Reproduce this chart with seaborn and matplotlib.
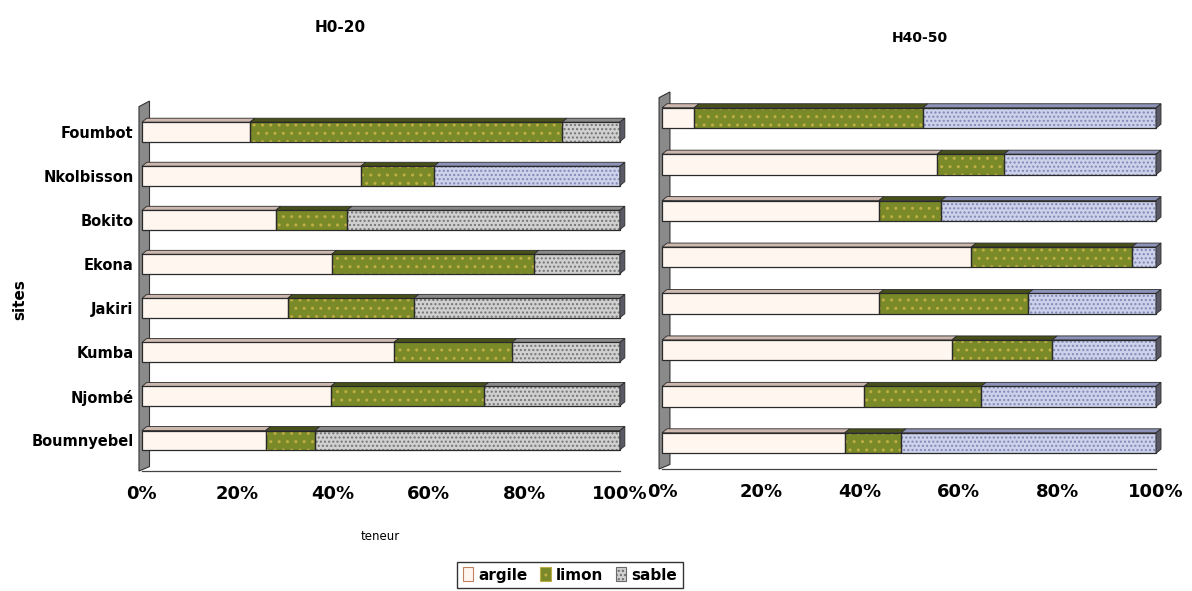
import numpy as np
import pandas as pd
import matplotlib
matplotlib.use("Agg")
import matplotlib.pyplot as plt
import seaborn as sns
from matplotlib.patches import Polygon, Rectangle, Patch

# ---- data (percent of each soil fraction per site) ----
sites = ["Foumbot", "Nkolbisson", "Bokito", "Ekona", "Jakiri", "Kumba", "Njombé", "Boumnyebel"]
textures = ["argile", "limon", "sable"]

argile_h0 = [22.6, 45.8, 28.0, 39.7, 30.5, 52.7, 39.5, 25.9]
limon_h0 = [65.3, 15.3, 14.9, 42.3, 26.4, 24.7, 32.0, 10.3]
sable_h0 = [12.1, 38.9, 57.1, 18.0, 43.1, 22.6, 28.5, 63.8]

argile_h40 = [6.5, 55.7, 43.9, 62.6, 43.9, 58.7, 40.9, 37.0]
limon_h40 = [46.3, 13.5, 12.6, 32.5, 30.2, 20.3, 23.7, 11.4]
sable_h40 = [47.2, 30.8, 43.5, 4.9, 25.9, 21.0, 35.4, 51.6]

x_ticks = [0, 20, 40, 60, 80, 100]
x_ticklabels = ["0%", "20%", "40%", "60%", "80%", "100%"]

# ---- styling ----
sns.set_theme(style="white")
plt.rcParams["font.family"] = ["DejaVu Sans"]
plt.rcParams["hatch.linewidth"] = 1.0
plt.rcParams["text.color"] = "black"
plt.rcParams["xtick.labelcolor"] = "black"
plt.rcParams["ytick.labelcolor"] = "black"

ARG = "#FFF6EF"
LIM = "#7A8A28"
SAB_GRAY = "#D0D0D0"
SAB_BLUE = "#C8CFEF"
FACE = {"argile": ARG, "limon": LIM}
HATCH = {"argile": "", "limon": "..", "sable": "...."}
HATCH_COL = {"argile": ARG, "limon": "#BFAE45", "sable": None}
TOP = {"argile": "#CDB8AF", "limon": "#48501A"}
EDGE = "#2A2A2A"

fig = plt.figure(figsize=(11.92, 5.91), dpi=100)
ax1 = fig.add_axes([0.119, 0.203, 0.401, 0.626])
ax2 = fig.add_axes([0.5554, 0.2064, 0.4144, 0.638])

BAR_W = 0.44


def draw_panel(ax, arg, lim, sab, sable_cols, ylim, show_labels):
    df = pd.DataFrame({"site": sites, "argile": arg, "limon": lim, "sable": sab})
    df["c_argile"] = df["argile"]
    df["c_limon"] = df["argile"] + df["limon"]
    df["c_sable"] = df["c_limon"] + df["sable"]
    start = {"argile": np.zeros(len(df)), "limon": df["c_argile"].values,
             "sable": df["c_limon"].values}

    # stacked bars: draw cumulative totals from the widest to the narrowest
    for tex in ["sable", "limon", "argile"]:
        n0 = len(ax.patches)
        if tex == "sable":
            sns.barplot(data=df, x="c_sable", y="site", hue="site",
                        palette=sable_cols, orient="h", width=BAR_W,
                        legend=False, ax=ax)
        else:
            sns.barplot(data=df, x="c_" + tex, y="site", color=FACE[tex],
                        orient="h", width=BAR_W, saturation=1, ax=ax)
        for i, p in enumerate(ax.patches[n0:]):
            p.set_linewidth(0)
            if tex == "sable":
                hc = "#747474" if sable_cols[i] == SAB_GRAY else "#8088B8"
            else:
                hc = HATCH_COL[tex]
            p.set_hatch(HATCH[tex])
            p.set_edgecolor(hc)

    ax.set_xlim(0, 100)
    ax.set_ylim(*ylim)

    # pixel size of data units for the 3-D depth
    pos = ax.get_position()
    wpx = pos.width * fig.get_figwidth() * fig.dpi
    hpx = pos.height * fig.get_figheight() * fig.dpi
    ux = 100.0 / wpx
    uy = (ylim[0] - ylim[1]) / hpx
    dx, dy = 5 * ux, 4 * uy

    for i in range(len(df)):
        yt = i - BAR_W / 2
        yb = i + BAR_W / 2
        for tex in textures:
            a = start[tex][i]
            b = df["c_" + tex].iloc[i]
            if tex == "sable":
                topc = "#8A8A8A" if sable_cols[i] == SAB_GRAY else "#8D93B8"
            else:
                topc = TOP[tex]
            ax.add_patch(Polygon([(a, yt), (b, yt), (b + dx, yt - dy), (a + dx, yt - dy)],
                                 closed=True, facecolor=topc, edgecolor=EDGE,
                                 linewidth=0.6, clip_on=False, zorder=3))
            ax.add_patch(Rectangle((a, yt), b - a, BAR_W, fill=False,
                                   edgecolor=EDGE, linewidth=0.9, zorder=3,
                                   clip_on=False))
        end = df["c_sable"].iloc[i]
        ax.add_patch(Polygon([(end, yt), (end + dx, yt - dy), (end + dx, yb - dy), (end, yb)],
                             closed=True, facecolor="#5A5A66", edgecolor=EDGE,
                             linewidth=0.6, clip_on=False, zorder=3))

    # side wall
    ax.add_patch(Polygon([(-0.006, 0.0), (-0.006, 0.985), (0.016, 1.0), (0.016, 0.012)],
                         closed=True, transform=ax.transAxes, facecolor="#8A8A8A",
                         edgecolor="#333333", linewidth=0.8, clip_on=False, zorder=0.5))

    for s in ["top", "right", "left"]:
        ax.spines[s].set_visible(False)
    ax.spines["bottom"].set_color("#444444")
    ax.spines["bottom"].set_linewidth(0.9)
    ax.set_xticks(x_ticks)
    ax.set_xticklabels(x_ticklabels, fontsize=13, fontweight="bold", color="black")
    ax.tick_params(axis="x", direction="in", length=4, width=0.8, pad=10, colors="#444444",
                   labelcolor="black")
    ax.set_xlabel("")
    ax.set_ylabel("")
    if show_labels:
        ax.set_yticks(range(len(sites)))
        ax.set_yticklabels(sites, fontsize=10.5, fontweight="bold", color="black")
        ax.tick_params(axis="y", length=0, pad=6, labelcolor="black")
    else:
        ax.set_yticks([])


draw_panel(ax1, argile_h0, limon_h0, sable_h0,
           [SAB_GRAY, SAB_BLUE] + [SAB_GRAY] * 6, (7.7, -0.7), True)
draw_panel(ax2, argile_h40, limon_h40, sable_h40,
           [SAB_BLUE] * 8, (7.56, -0.56), False)

# titles and axis texts
fig.text(340 / 1192, 1 - 27 / 591, "H0-20", ha="center", va="center",
         fontsize=11, fontweight="bold", color="black")
fig.text(920 / 1192, 1 - 38 / 591, "H40-50", ha="center", va="center",
         fontsize=10, fontweight="bold", color="black")
fig.text(20 / 1192, 1 - 300 / 591, "sites", ha="center", va="center",
         rotation=90, fontsize=11, fontweight="bold", color="black")
fig.text(380 / 1192, 1 - 537 / 591, "teneur", ha="center", va="center",
         fontsize=8.5, color="black")

handles = [
    Patch(facecolor=ARG, edgecolor="#C08060", linewidth=0.8, label="argile"),
    Patch(facecolor=LIM, edgecolor="#BFAE45", hatch="..", linewidth=0.8, label="limon"),
    Patch(facecolor=SAB_GRAY, edgecolor="#6A6A6A", hatch="....", linewidth=0.8, label="sable"),
]
leg = fig.legend(handles=handles, loc="center", bbox_to_anchor=(570 / 1192, 1 - 575 / 591),
                 ncol=3, frameon=True, fancybox=False, edgecolor="black",
                 prop={"weight": "bold", "size": 11}, handlelength=0.7, handleheight=1.0,
                 handletextpad=0.35, columnspacing=0.8, borderpad=0.35,
                 borderaxespad=0)
leg.get_frame().set_linewidth(1.0)
for t in leg.get_texts():
    t.set_color("black")

fig.savefig("out.png", dpi=100)
